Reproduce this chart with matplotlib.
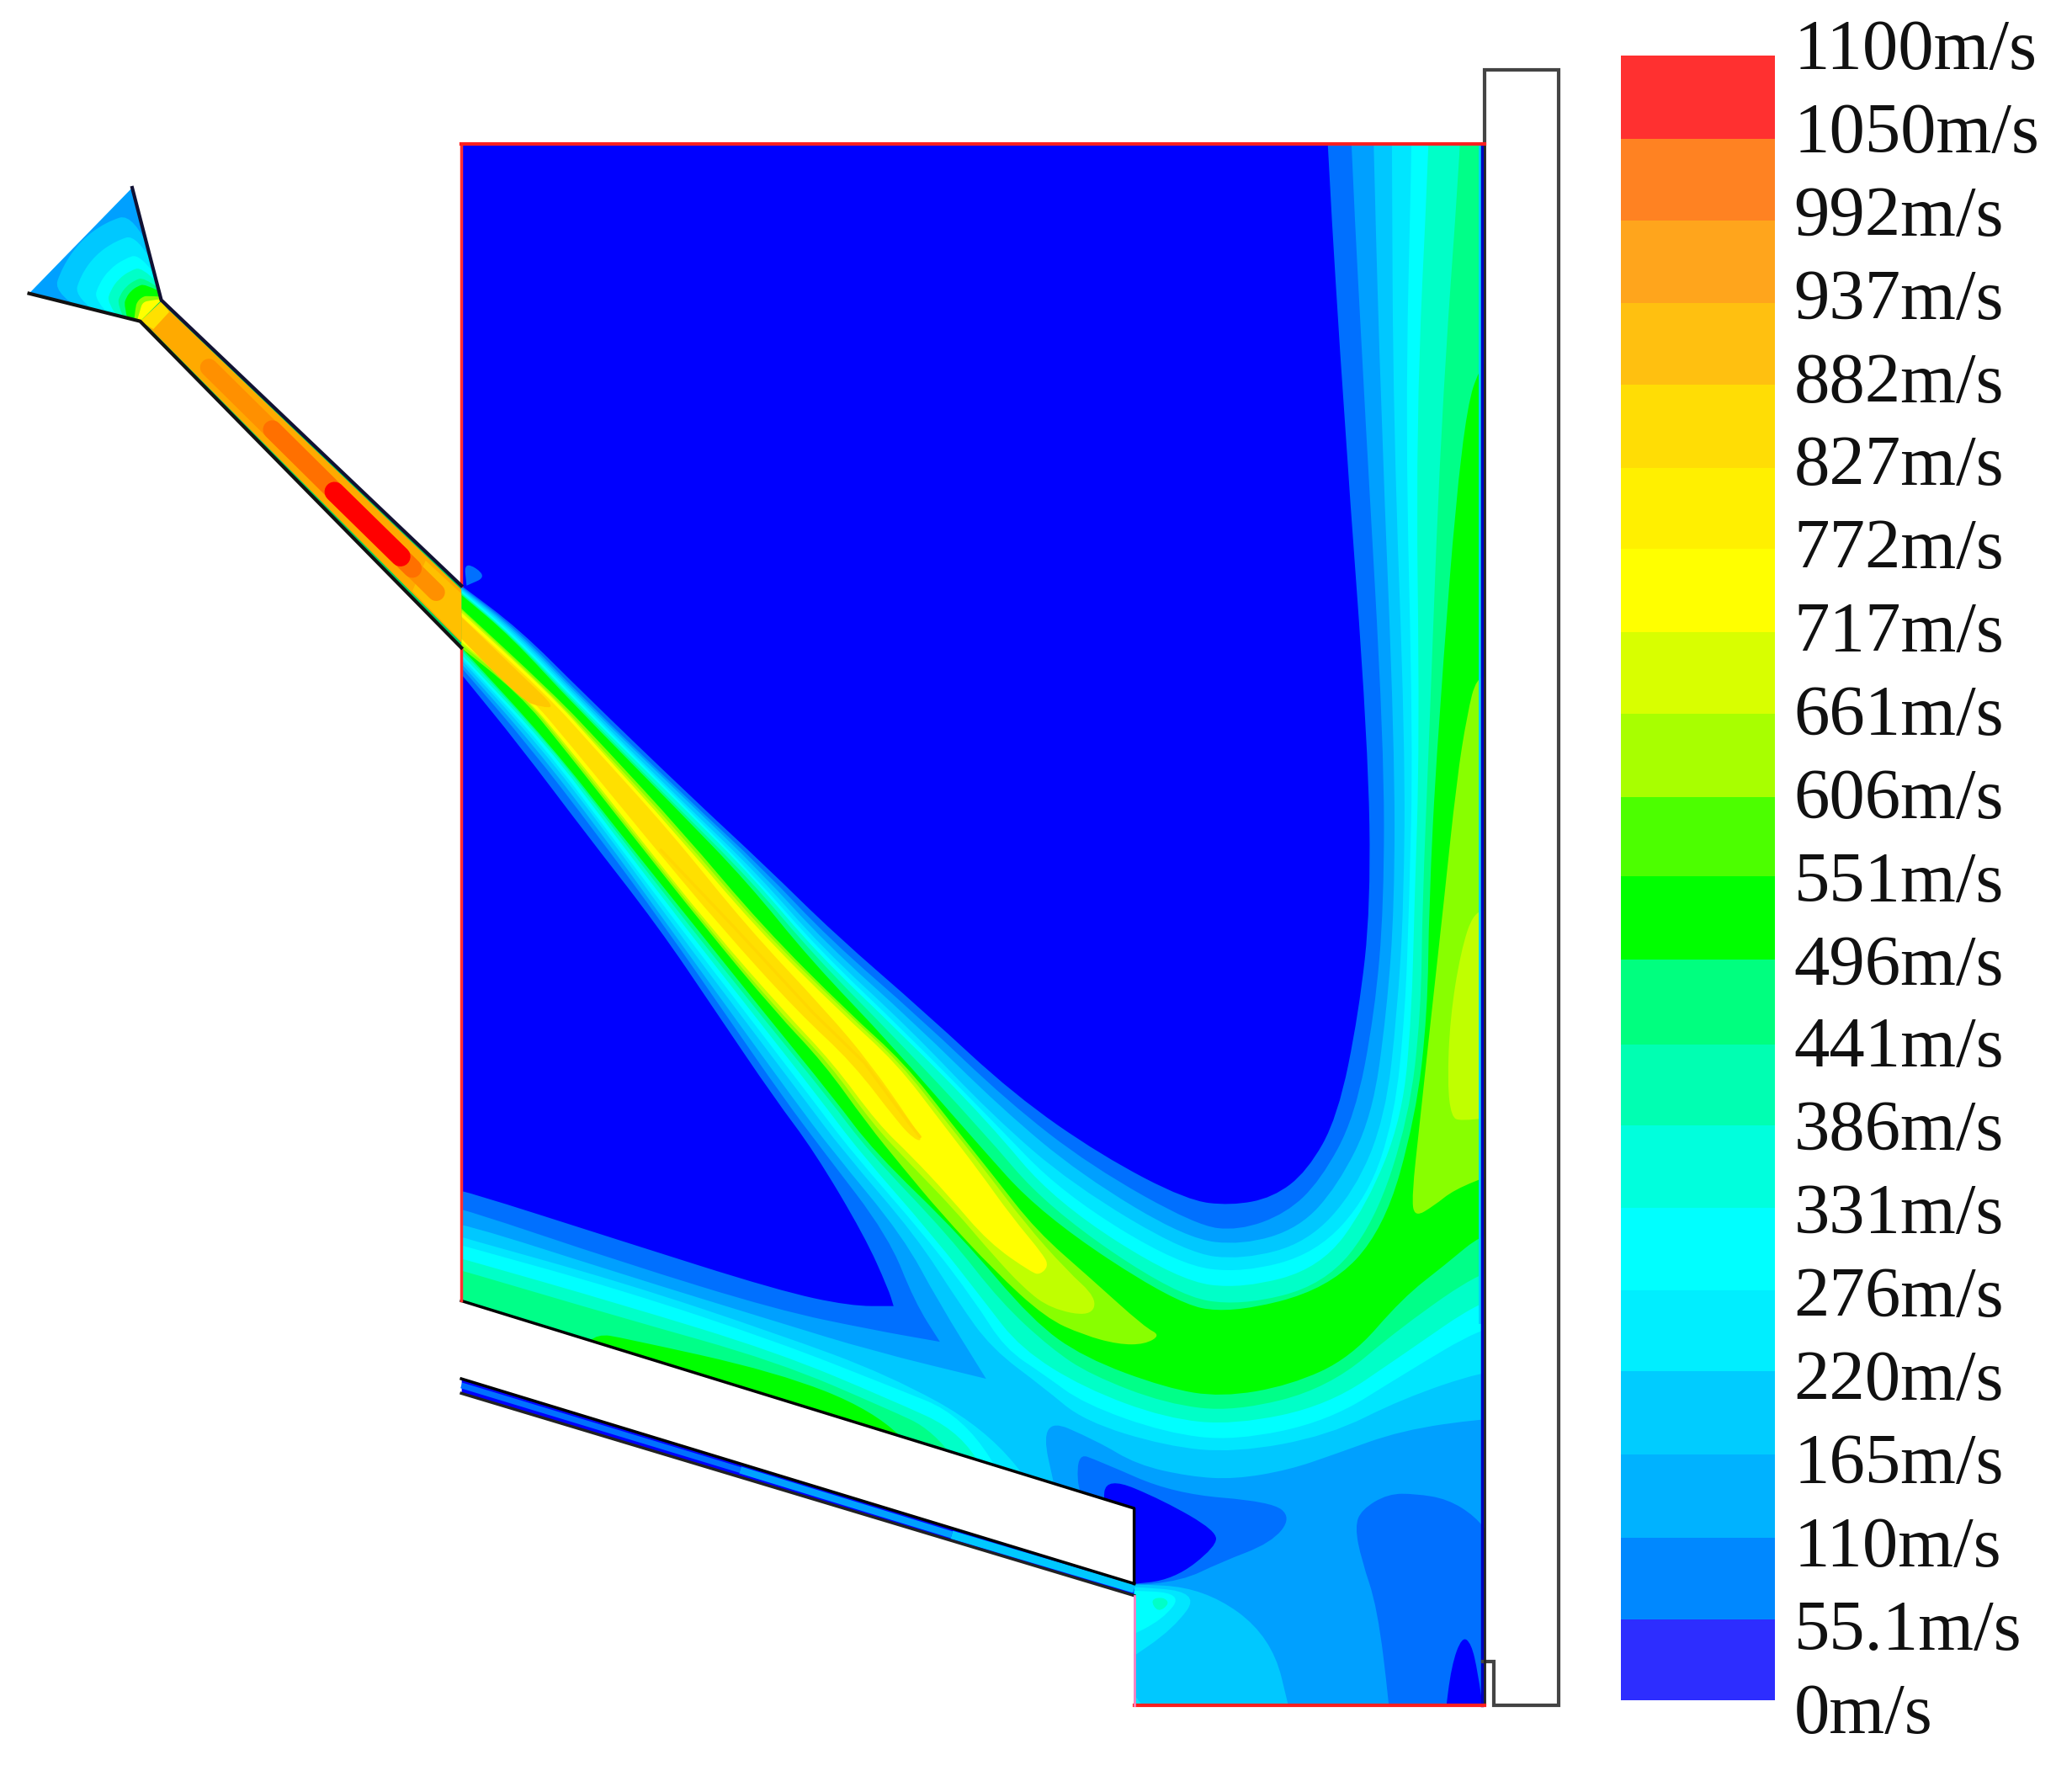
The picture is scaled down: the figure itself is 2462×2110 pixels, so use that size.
import matplotlib
matplotlib.use('Agg')
import matplotlib.pyplot as plt
from matplotlib.patches import Polygon, PathPatch
from matplotlib.path import Path

# everything is read in a 1567.5 wide copy of the picture
W, H = 1567.5, 1343.5

legend_edges = [42, 105, 167, 229, 291, 354, 415, 478, 540, 603, 663, 726, 790, 851, 914, 976, 1037, 1100, 1163, 1225, 1286]
legend_colors = ['#ff3030', '#ff8222', '#ffa51c', '#ffc010', '#ffdd05', '#fff000', '#ffff00', '#d8ff00', '#a8ff00', '#4cff00',
                 '#00ff00', '#00ff7f', '#00ffb2', '#00ffdd', '#00ffff', '#00eeff', '#00ccff', '#00b2ff', '#0088ff', '#2d2dff']
legend_labels = ['1100m/s', '1050m/s', '992m/s', '937m/s', '882m/s', '827m/s', '772m/s', '717m/s', '661m/s', '606m/s', '551m/s',
                 '496m/s', '441m/s', '386m/s', '331m/s', '276m/s', '220m/s', '165m/s', '110m/s', '55.1m/s', '0m/s']
label_y = [39, 102, 165, 228, 291, 354, 417, 480, 543, 606, 669, 732, 794, 857, 920, 983, 1046, 1109, 1172, 1235, 1298]

# speed contours, columns are the levels 55 110 165 220 276 331 420 496
band_colors = ['#0070ff', '#00a0ff', '#00c8ff', '#00e6ff', '#00ffff', '#00ffc8', '#00ff88', '#00ff00']
upper_x = [[1004, 1022, 1039, 1053, 1068, 1081, 1105, 1123],
           [1017, 1033, 1045, 1054, 1063, 1071, 1090, 1106],
           [1035, 1047, 1055, 1063, 1069, 1074, 1081, 1087],
           [1037, 1047, 1055, 1062, 1066, 1070, 1076, 1081],
           [1028, 1040, 1049, 1057, 1063, 1068, 1075, 1080],
           [1012, 1025, 1038, 1048, 1055, 1061, 1066, 1071],
           [989, 999, 1012, 1025, 1035, 1034, 1040, 1047],
           [963, 973, 983, 989, 996, 999, 1002, 1005],
           [931, 937, 940, 940, 940, 940, 938, 930],
           [898, 905, 898, 898, 892, 892, 890, 888],
           [833, 825, 818, 811, 804, 798, 793, 788],
           [767, 762, 757, 751, 749, 747, 741, 735],
           [700, 696, 692, 688, 685, 683, 679, 675],
           [632, 628, 625, 622, 620, 618, 616, 613],
           [579, 577, 575, 573, 571, 570, 568, 566],
           [523, 521, 520, 518, 517, 516, 514, 513],
           [442, 440, 439, 438, 437, 436, 435, 434],
           [393, 392, 391, 390, 389, 388, 388, 387],
           [349, 349, 349, 349, 349, 349, 349, 349]]
upper_y = [[109, 109, 109, 109, 109, 109, 109, 267],
           [319, 319, 319, 319, 319, 319, 319, 319],
           [563, 563, 563, 563, 563, 563, 563, 563],
           [685, 685, 685, 685, 685, 685, 685, 685],
           [766, 766, 766, 766, 766, 766, 766, 766],
           [845, 845, 845, 845, 845, 845, 845, 845],
           [886, 893, 897, 901, 905, 912, 925, 930],
           [906, 918, 929, 940, 948, 959, 972, 975],
           [912, 931, 942, 953, 963, 975, 988, 994],
           [908, 927, 937, 948, 957, 969, 980, 985],
           [874, 882, 889, 896, 903, 909, 914, 919],
           [828, 833, 838, 844, 846, 848, 853, 860],
           [766, 770, 774, 778, 781, 783, 787, 791],
           [707, 711, 714, 717, 719, 721, 723, 726],
           [655, 657, 659, 661, 663, 664, 666, 668],
           [603, 605, 606, 608, 609, 610, 612, 613],
           [525, 527, 528, 529, 530, 531, 532, 533],
           [476, 477, 478, 479, 480, 481, 482, 482],
           [443, 444, 445, 446, 447, 448, 449, 450]]
lower_y = [564, 629, 701, 766, 831, 871, 935]
lower_x = [[393, 400, 404, 408, 411, 414, 416, 417],
           [442, 450, 454, 458, 460, 463, 466, 468],
           [498, 503, 506, 510, 514, 518, 522, 526],
           [542, 548, 553, 559, 564, 569, 574, 578],
           [586, 593, 600, 608, 614, 620, 627, 631],
           [616, 623, 630, 638, 644, 650, 657, 661],
           [654, 672, 683, 693, 700, 706, 718, 727]]
wall_lower_y = [510, 505, 502, 499, 497, 495, 492, 490]

tail_55 = [(672, 975), (676, 988), (676, 988), (643, 988), (588, 976), (471, 939), (349, 900), (340, 900), (340, 900)]
tail_110 = [(692, 985), (711, 1015), (711, 1015), (660, 1006), (588, 991), (471, 955), (349, 914), (340, 914), (340, 914)]
tail_165 = [(710, 985), (746, 1043), (746, 1043), (660, 1022), (588, 1000), (471, 964), (349, 925), (330, 925), (330, 925), (330, 1010), (330, 1010), (800, 1135), (800, 1135),
            (786, 1071), (830, 1090), (860, 1108), (900, 1117), (934, 1119), (975, 1112), (1010, 1100), (1060, 1082), (1123, 1073)]
tail_220 = [(725, 985), (750, 1020), (790, 1050), (820, 1075), (882, 1094), (934, 1099), (1005, 1086), (1061, 1058), (1123, 1037)]
tail_276 = [(738, 985), (760, 1020), (790, 1040), (820, 1062), (882, 1084), (934, 1090), (1005, 1075), (1061, 1040), (1123, 1003)]
tail_331 = [(745, 985), (772, 1020), (820, 1050), (882, 1073), (934, 1078), (1005, 1063), (1061, 1025), (1123, 982)]
tail_420 = [(757, 985), (795, 1020), (825, 1040), (882, 1062), (934, 1068), (1005, 1050), (1061, 1003), (1123, 960)]
tail_496 = [(781, 999), (820, 1027), (882, 1050), (924, 1057), (976, 1048), (1022, 1027), (1061, 982), (1093, 957), (1123, 932)]

flow_220 = [(330, 930), (330, 930), (349, 936), (471, 970), (588, 1009), (672, 1040), (745, 1080), (790, 1135), (790, 1135), (330, 1010), (330, 1010)]
flow_276 = [(330, 937), (330, 937), (349, 942), (471, 976), (588, 1015), (672, 1048), (729, 1071), (769, 1135), (769, 1135), (330, 1010), (330, 1010)]
flow_331 = [(330, 947), (330, 947), (349, 952), (471, 987), (588, 1023), (672, 1058), (729, 1084), (755, 1135), (755, 1135), (330, 1010), (330, 1010)]
flow_420 = [(330, 956), (330, 956), (349, 961), (471, 997), (588, 1030), (672, 1066), (706, 1082), (738, 1125), (738, 1125), (330, 1010), (330, 1010)]
flow_496 = [(440, 1020), (440, 1020), (452, 1009), (471, 1012), (588, 1038), (661, 1067), (700, 1105), (700, 1105), (440, 1030), (440, 1030)]

# bottom chamber
patch_110_a = [(814, 1099), (831, 1105), (888, 1130), (962, 1136), (977, 1148), (962, 1167), (923, 1182), (894, 1196), (850, 1200), (850, 1200), (850, 1140), (850, 1140), (817, 1140)]
patch_110_b = [(1025, 1155), (1030, 1142), (1050, 1130), (1071, 1130), (1095, 1134), (1116, 1147), (1130, 1165), (1130, 1300), (1130, 1300), (1051, 1300), (1051, 1290), (1042, 1216), (1030, 1180)]
patch_55_a = [(837, 1117), (880, 1135), (920, 1158), (920, 1170), (888, 1195), (850, 1199), (850, 1199), (850, 1145), (850, 1145), (834, 1140)]
patch_55_b = [(1106, 1238), (1113, 1243), (1118, 1265), (1123, 1300), (1123, 1300), (1093, 1300), (1093, 1300), (1098, 1260)]
patch_165 = [(850, 1198), (850, 1198), (911, 1201), (962, 1238), (977, 1300), (977, 1300), (850, 1300), (850, 1300)]
patch_220 = [(850, 1200), (850, 1200), (908, 1204), (888, 1232), (850, 1258), (850, 1258)]
patch_276 = [(850, 1203), (850, 1203), (895, 1205), (880, 1225), (850, 1240), (850, 1240)]
patch_331 = [(870, 1210), (880, 1208), (885, 1213), (876, 1220)]
corner_220 = [(850, 1272), (850, 1272), (872, 1300), (872, 1300), (850, 1300), (850, 1300)]

# wall jet on the right
wall_551 = [(1130, 512), (1130, 512), (1117, 512), (1110, 540), (1102, 590), (1092, 685), (1083, 766), (1074, 850), (1068, 905), (1070, 921), (1085, 912), (1100, 900), (1130, 888), (1130, 888)]
wall_606 = [(1130, 689), (1130, 689), (1115, 689), (1105, 720), (1097, 770), (1095, 820), (1098, 845), (1105, 848), (1130, 845), (1130, 845)]

# core of the jet
jet_551 = [(340, 452), (340, 452), (419, 525), (456, 564), (516, 629), (577, 701), (642, 766), (684, 804), (720, 850), (752, 890), (784, 931), (825, 967),
           (866, 1004), (878, 1010), (866, 1017), (846, 1017), (820, 1010), (791, 997), (752, 961), (712, 918), (682, 882), (656, 850), (623, 804), (587, 766), (533, 701),
           (476, 629), (425, 564), (393, 525), (340, 483), (340, 483)]
jet_606 = [(340, 453), (340, 453), (417, 525), (453, 564), (513, 629), (574, 701), (640, 766), (681, 804), (717, 850), (745, 885), (775, 925), (807, 961),
           (830, 982), (825, 996), (795, 990), (775, 975), (750, 948), (722, 915), (688, 880), (660, 850), (627, 804), (590, 766), (535, 701), (478, 629),
           (427, 564), (395, 525), (340, 480), (340, 480)]
jet_661 = [(340, 455), (340, 455), (416, 525), (451, 564), (510, 629), (571, 701), (636, 766), (678, 804), (713, 850), (740, 885), (765, 920), (790, 950),
           (793, 958), (787, 964), (781, 963), (748, 940), (718, 905), (690, 875), (664, 850), (630, 804), (594, 766), (537, 701), (480, 629), (429, 564), (396, 525), (340, 478), (340, 478)]
jet_717 = [(340, 458), (340, 458), (413, 525), (448, 564), (507, 629), (565, 701), (626, 766), (658, 804), (690, 850), (698, 863), (692, 862), (680, 850), (645, 804),
           (604, 766), (545, 701), (485, 629), (432, 564), (399, 525), (340, 474), (340, 474)]
jet_772 = [(340, 458), (340, 458), (399, 515), (420, 535), (410, 535), (395, 530), (340, 474), (340, 474)]
crest_x = [500, 555, 615, 654, 688, 696]
crest_y = [643, 701, 766, 804, 850, 860]

# nozzle
funnel = [(100, 142), (22, 222), (106, 243), (122, 227)]
funnel_arcs = [[(40, 223), (47, 202), (61, 182), (80, 168), (101, 161.3)],
               [(56, 225), (61, 208.5), (72, 193), (87.4, 182.3), (103.4, 177.2)],
               [(71, 227), (74.7, 215), (82.7, 203.8), (94, 195.8), (105.8, 192)],
               [(80.8, 228.8), (83.7, 219.5), (89.8, 210.9), (98.4, 204.8), (107.4, 201.9)],
               [(88.7, 230), (90.9, 223), (95.5, 216.6), (102, 212), (108.7, 209.8)],
               [(93.7, 230.8), (95.4, 225.2), (99, 220.1), (104.1, 216.5), (109.5, 214.8)],
               [(102.6, 232), (103.5, 229.2), (105.4, 226.5), (108.1, 224.6), (110.9, 223.7)],
               [(106.6, 232.7), (107.1, 231), (108.2, 229.3), (109.9, 228.2), (111.5, 227.7)]]
funnel_colors = ['#00c8ff', '#00e6ff', '#00ffff', '#00ffc8', '#00ff88', '#00ff00', '#88ff00', '#ffff00']
funnel_rear = [(130, 225), (130, 225), (130, 250), (130, 250), (100, 255), (100, 255)]
tube_outer = [(122, 227), (349, 443), (349, 490), (106, 243)]
tube_inner = [(124, 231), (349, 446), (349, 486), (109, 244)]
tube_throat = [(122, 228), (128, 236), (116, 249), (106, 243)]
tube_gold = [(322, 424), (349, 449), (349, 485), (312, 447)]
amber_x, amber_y = [158, 330], [278, 448]
orange_x, orange_y = [206, 312], [325, 430]
red_x, red_y = [253, 303], [372, 421]
wall_tuft = [(351, 424), (369, 436), (353, 443), (353, 443)]

# side duct under the chamber
duct_x = [349, 858]
duct_top = [1043, 1198]
duct_bottom = [1054, 1207]
duct_mid_x = [349, 560, 560, 720, 720, 858]
duct_mid_y = [1048, 1112, 1112, 1161, 1161, 1202]

domain = [(349, 109), (1123, 109), (1123, 1290), (858, 1290), (858, 1141), (349, 984)]
box_x = [1123, 1123, 1179, 1179, 1130, 1130, 1122]
box_y = [109, 53, 53, 1290, 1290, 1257, 1257]

fig = plt.figure(figsize=(24.62, 21.10), dpi=100)
ax = fig.add_axes([0, 0, 1, 1])
ax.set_xlim(0, W)
ax.set_ylim(H, 0)
ax.axis('off')

clip = Polygon(domain, transform=ax.transData)


def paint(points, color, z=2, clip_to=clip, smooth=True):
    # a point written twice stays a sharp corner, the others get rounded
    if smooth:
        n = len(points)
        mids = [((points[k][0] + points[(k + 1) % n][0]) / 2, (points[k][1] + points[(k + 1) % n][1]) / 2) for k in range(n)]
        verts = [mids[-1]]
        codes = [Path.MOVETO]
        for k in range(n):
            verts += [points[k], mids[k]]
            codes += [Path.CURVE3, Path.CURVE3]
        art = PathPatch(Path(verts, codes), facecolor=color, edgecolor='none', lw=0, zorder=z)
    else:
        art = Polygon(points, closed=True, facecolor=color, edgecolor='none', lw=0, zorder=z)
    ax.add_patch(art)
    if clip_to is not None:
        art.set_clip_path(clip_to)


def upper_curve(i):
    pts = [(rx[i], ry[i]) for rx, ry in zip(upper_x, upper_y)]
    return pts + [pts[-1]]


def lower_curve(i):
    pts = [(349, wall_lower_y[i]), (349, wall_lower_y[i])]
    pts += [(row[i], y) for row, y in zip(lower_x, lower_y)]
    return pts


def top_start(i):
    x0, y0 = upper_x[0][i], upper_y[0][i]
    if y0 > 109:
        return [(1150, y0), (1150, y0)]
    return [(x0, 80), (x0, 80)]


paint(domain, band_colors[1], smooth=False)

# slow regions, from the outside in
for i, col in [(1, band_colors[0]), (0, '#0000ff')]:
    z = 4 - i
    paint([(340, 80), (340, 80), (upper_x[0][i], 80), (upper_x[0][i], 80)] + upper_curve(i) + [(340, 443), (340, 443)], col, z)
paint([(340, 505), (340, 505)] + lower_curve(1) + tail_110, band_colors[0], 3)
paint(patch_110_a, band_colors[0], 3)
paint(patch_110_b, band_colors[0], 3)
paint([(340, 510), (340, 510)] + lower_curve(0) + tail_55, '#0000ff', 4)
paint(patch_55_a, '#0000ff', 4)
paint(patch_55_b, '#0000ff', 4)

# faster regions, one on top of the other
tails = {2: tail_165, 3: tail_220, 4: tail_276, 5: tail_331, 6: tail_420, 7: tail_496}
for i in range(2, 8):
    y_end = tails[i][-1][1]
    pts = top_start(i) + upper_curve(i) + lower_curve(i) + tails[i] + [(1150, y_end), (1150, y_end), (1150, 80), (1150, 80)]
    paint(pts, band_colors[i], 3 + i)
for i, flow in zip(range(3, 8), [flow_220, flow_276, flow_331, flow_420, flow_496]):
    paint(flow, band_colors[i], 3 + i)

for i, part in zip(range(2, 6), [patch_165, patch_220, patch_276, patch_331]):
    paint(part, band_colors[i], 3 + i)
paint(corner_220, band_colors[3], 6)

paint(wall_551, '#88ff00', 11)
paint(wall_606, '#c0ff00', 12)
paint(jet_551, '#88ff00', 11)
paint(jet_606, '#c0ff00', 12)
paint(jet_661, '#ffff00', 13)
paint(jet_717, '#ffe000', 14)
paint(jet_772, '#ffc800', 15)
crest = ax.plot(crest_x, crest_y, color='#ffd800', lw=2.5, zorder=15, solid_capstyle='round')[0]
crest.set_clip_path(clip)

# nozzle is outside the clip
paint(tube_outer, '#00d060', 16, None, False)
paint(tube_inner, '#ffaa00', 17, None, False)
paint(tube_gold, '#ffc000', 18, None, False)
ax.plot(amber_x, amber_y, color='#ff9000', lw=15, zorder=18, solid_capstyle='round')
ax.plot(orange_x, orange_y, color='#ff7000', lw=16, zorder=19, solid_capstyle='round')
ax.plot(red_x, red_y, color='#ff0000', lw=17, zorder=20, solid_capstyle='round')
paint(funnel, '#00a0ff', 16, None, False)
funnel_clip = Polygon(funnel, transform=ax.transData)
for k, (arc, col) in enumerate(zip(funnel_arcs, funnel_colors)):
    paint(arc + funnel_rear, col, 17 + k * 0.1, funnel_clip)
paint(tube_throat, '#ffe000', 17, None, False)
paint(wall_tuft, band_colors[0], 21, None)

# duct
ax.fill_between(duct_x, duct_top, duct_bottom, color='#0000ff', lw=0, zorder=5)
ax.plot(duct_mid_x[:2], duct_mid_y[:2], color='#0070ff', lw=5, zorder=6, solid_capstyle='butt')
ax.plot(duct_mid_x[2:4], duct_mid_y[2:4], color='#00a0ff', lw=6, zorder=6, solid_capstyle='butt')
ax.plot(duct_mid_x[4:], duct_mid_y[4:], color='#00c8ff', lw=7, zorder=6, solid_capstyle='butt')
ax.plot(duct_x, duct_top, color='black', lw=2.5, zorder=7)
ax.plot(duct_x, duct_bottom, color='#222222', lw=2.5, zorder=7)

# walls
ax.plot([1119.5, 1119.5], [109, 1000], color='#00d0ff', lw=2, zorder=22)
ax.plot([1121.5, 1121.5], [109, 1290], color='#0000c0', lw=2.5, zorder=22)
ax.plot(box_x, box_y, color='#444444', lw=3, zorder=23, solid_joinstyle='miter')
ax.plot([1123, 1123], [109, 1290], color='#222222', lw=2, zorder=23)
ax.plot([349, 858, 858], [984, 1141, 1198], color='black', lw=2.5, zorder=23)
ax.plot([349, 349], [109, 443], color='#ff3030', lw=2.5, zorder=24)
ax.plot([349, 349], [490, 984], color='#ff3030', lw=2.5, zorder=24)
ax.plot([349, 1123], [109, 109], color='#ff2020', lw=3, zorder=24)
ax.plot([858, 1123], [1290, 1290], color='#ff2020', lw=3, zorder=24)
ax.plot([858, 858], [1207, 1290], color='#ff80c0', lw=2, zorder=24)

# nozzle outline
ax.plot([100, 122, 349], [142, 227, 443], color='#111133', lw=3, zorder=25)
ax.plot([22, 106, 349], [222, 243, 490], color='#111111', lw=3, zorder=25)

# legend
for top, bottom, col in zip(legend_edges[:-1], legend_edges[1:], legend_colors):
    ax.bar(1284.5, bottom - top, width=117, bottom=top, color=col, lw=0, zorder=3)
for y, text in zip(label_y, legend_labels):
    ax.text(1357, y, text, family='Liberation Serif', fontsize=61, color='#111111', va='center', ha='left')

fig.savefig('out.png', dpi=100)
